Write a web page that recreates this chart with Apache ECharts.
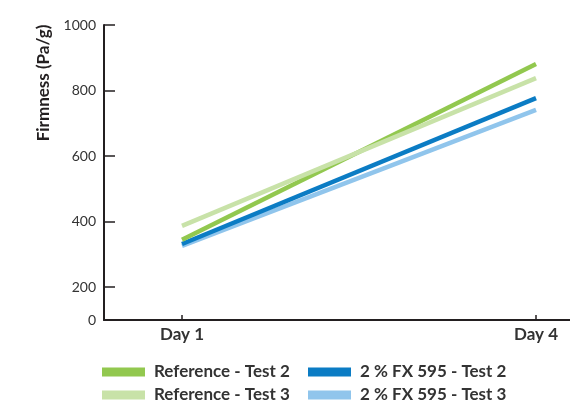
<!DOCTYPE html>
<html><head><meta charset="utf-8">
<script src="https://cdn.jsdelivr.net/npm/echarts@6/dist/echarts.min.js"></script>
<style>html,body{margin:0;padding:0;background:#fff}#c{width:570px;height:401px}</style>
</head><body><div id="c"></div>
<script>
const days = [1, 4];
const dayLabels = ['Day 1', 'Day 4'];
const yTicks = [100, 200, 400, 600, 800, 1000];
const seriesNames = ['Reference - Test 2', 'Reference - Test 3', '2 % FX 595 - Test 2', '2 % FX 595 - Test 3'];
const refTest2 = [345, 881];
const refTest3 = [387, 838];
const fxTest2 = [332, 777];
const fxTest3 = [326, 741];
const colors = ['#92C84F', '#C8E2A8', '#0B7CC4', '#90C5EC'];

const FONT = 'Lato';
const chart = echarts.init(document.getElementById('c'), null, {renderer: 'canvas'});
function mk(name, vals, color, z) {
  return {
    name, type: 'line', data: days.map((d, i) => [d, vals[i]]),
    symbol: 'none', z,
    lineStyle: {color, width: 4.5, cap: 'butt'},
    itemStyle: {color}
  };
}
function lg(name, left, top) {
  return {
    left, top, padding: 0, orient: 'horizontal', itemWidth: 43, itemHeight: 9,
    icon: 'rect', selectedMode: false, data: [name],
    textStyle: {fontFamily: FONT, fontWeight: 'bold', fontSize: 17, lineHeight: 18, color: '#333', padding: [0, 0, 0, 4]}
  };
}
chart.setOption({
  animation: false,
  grid: {left: 104, top: 25, right: 0, bottom: 81, containLabel: false},
  xAxis: {
    type: 'value', min: 0.339, max: 4.288,
    splitLine: {show: false},
    axisLine: {lineStyle: {color: '#231F20', width: 2}},
    axisTick: {inside: true, length: 5, customValues: days, lineStyle: {color: '#231F20', width: 1.5}},
    axisLabel: {customValues: days, margin: 6, fontFamily: FONT, fontWeight: 'bold', fontSize: 17, color: '#333',
      formatter: v => dayLabels[days.indexOf(v)] || ''}
  },
  yAxis: {
    type: 'value', min: 100, max: 1000,
    splitLine: {show: false},
    axisLine: {show: true, lineStyle: {color: '#231F20', width: 2}},
    axisTick: {show: true, inside: true, length: 11, customValues: yTicks.slice(1), lineStyle: {color: '#231F20', width: 1.5}},
    axisLabel: {customValues: yTicks, margin: 8, fontFamily: FONT, fontSize: 14, color: '#333',
      formatter: v => v === 100 ? '0' : String(v)}
  },
  graphic: [{
    type: 'text', x: 44, y: 83, rotation: Math.PI / 2,
    style: {text: 'Firmness (Pa/g)', fontFamily: FONT, fontWeight: 'bold', fontSize: 17, fill: '#231F20', align: 'center', verticalAlign: 'middle'}
  }],
  legend: [
    lg(seriesNames[0], 102, 363),
    lg(seriesNames[1], 102, 386),
    lg(seriesNames[2], 308, 363),
    lg(seriesNames[3], 308, 386)
  ],
  series: [
    mk(seriesNames[3], fxTest3, colors[3], 2),
    mk(seriesNames[2], fxTest2, colors[2], 3),
    mk(seriesNames[0], refTest2, colors[0], 4),
    mk(seriesNames[1], refTest3, colors[1], 5)
  ]
});
</script></body></html>
